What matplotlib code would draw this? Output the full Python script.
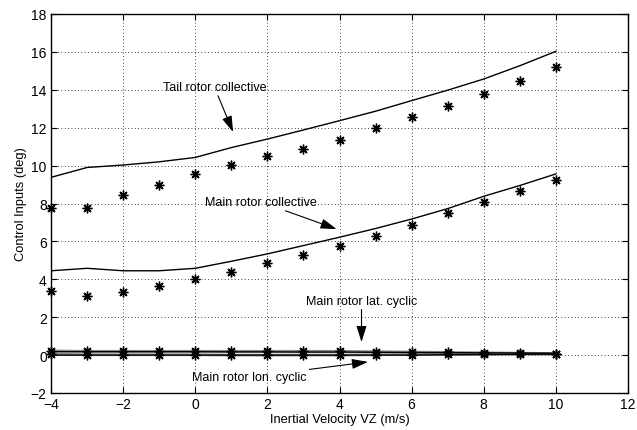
import matplotlib
matplotlib.use('Agg')
import matplotlib.pyplot as plt

plt.rcParams['font.family'] = ['Liberation Sans', 'DejaVu Sans']

vz = [-4, -3, -2, -1, 0, 1, 2, 3, 4, 5, 6, 7, 8, 9, 10]

# model (solid lines)
tail_line = [9.38, 9.9, 10.03, 10.2, 10.43, 10.95, 11.4, 11.88, 12.37, 12.87, 13.43, 13.98, 14.57, 15.27, 16.03]
main_line = [4.45, 4.58, 4.45, 4.45, 4.58, 4.95, 5.34, 5.78, 6.22, 6.68, 7.18, 7.73, 8.38, 8.95, 9.56]
lat_line = [0.18, 0.18, 0.18, 0.18, 0.18, 0.17, 0.17, 0.16, 0.16, 0.15, 0.14, 0.13, 0.12, 0.11, 0.1]
lon_line = [0.0, 0.0, 0.0, 0.0, 0.0, 0.0, 0.0, 0.0, 0.0, 0.0, 0.0, 0.02, 0.03, 0.04, 0.05]

# trim values (stars)
tail_pts = [7.75, 7.75, 8.45, 9.0, 9.55, 10.05, 10.5, 10.9, 11.33, 11.98, 12.55, 13.16, 13.78, 14.48, 15.22]
main_pts = [3.4, 3.1, 3.35, 3.65, 4.0, 4.4, 4.85, 5.27, 5.74, 6.3, 6.88, 7.5, 8.06, 8.68, 9.25]
lat_pts = [0.22, 0.2, 0.2, 0.2, 0.2, 0.2, 0.2, 0.2, 0.2, 0.18, 0.16, 0.14, 0.12, 0.1, 0.08]
lon_pts = [0.05, 0.02, 0.02, 0.02, 0.02, 0.0, 0.0, 0.0, 0.0, 0.02, 0.03, 0.04, 0.05, 0.05, 0.05]

fig = plt.figure(figsize=(6.37, 4.31), dpi=100)
ax = fig.add_axes([51 / 637, 1 - 394 / 431, 577 / 637, 379 / 431])

ax.plot(vz, lat_pts, color='0.55', lw=2)
ax.plot(vz, lon_pts, color='0.55', lw=2)
ax.plot(vz, tail_line, 'k-', lw=1)
ax.plot(vz, main_line, 'k-', lw=1)
ax.plot(vz, lat_line, 'k-', lw=1)
ax.plot(vz, lon_line, 'k-', lw=1)
for pts in (tail_pts, main_pts, lat_pts, lon_pts):
    ax.plot(vz, pts, color='k', marker=(8, 2, 0), ms=7, mew=1.0,
            linestyle='none', clip_on=False)

ax.set_xlim(-4, 12)
ax.set_ylim(-2, 18)
ax.set_xticks(range(-4, 13, 2))
ax.set_yticks(range(-2, 19, 2))
ax.set_xticklabels([str(t).replace('-', '\u2212') for t in range(-4, 13, 2)])
ax.set_yticklabels([str(t).replace('-', '\u2212') for t in range(-2, 19, 2)])
ax.grid(True, color='k', linestyle=(0, (1, 3)), linewidth=0.6)
ax.tick_params(direction='in', top=True, right=True, labelsize=10, length=4, width=0.8, pad=3)
for s in ax.spines.values():
    s.set_linewidth(1.0)
ax.set_xlabel('Inertial Velocity VZ (m/s)', fontsize=9.3, labelpad=1)
ax.set_ylabel('Control Inputs (deg)', fontsize=9.3, labelpad=3)

arrow = dict(arrowstyle='-|>,head_length=0.7,head_width=0.22', color='k', lw=0.8,
             mutation_scale=14, shrinkA=0, shrinkB=0)
ax.annotate('Tail rotor collective', xy=(1.05, 11.77), xytext=(0.53, 14.15),
            ha='center', va='center', fontsize=9, arrowprops=arrow)
ax.annotate('Main rotor collective', xy=(3.92, 6.65), xytext=(1.82, 8.08),
            ha='center', va='center', fontsize=9, arrowprops=arrow)
ax.annotate('Main rotor lat. cyclic', xy=(4.61, 0.69), xytext=(4.61, 2.87),
            ha='center', va='center', fontsize=9, arrowprops=arrow)
ax.annotate('Main rotor lon. cyclic', xy=(4.79, -0.36), xytext=(1.5, -1.16),
            ha='center', va='center', fontsize=9, arrowprops=arrow)

fig.savefig('out.png', dpi=100)
